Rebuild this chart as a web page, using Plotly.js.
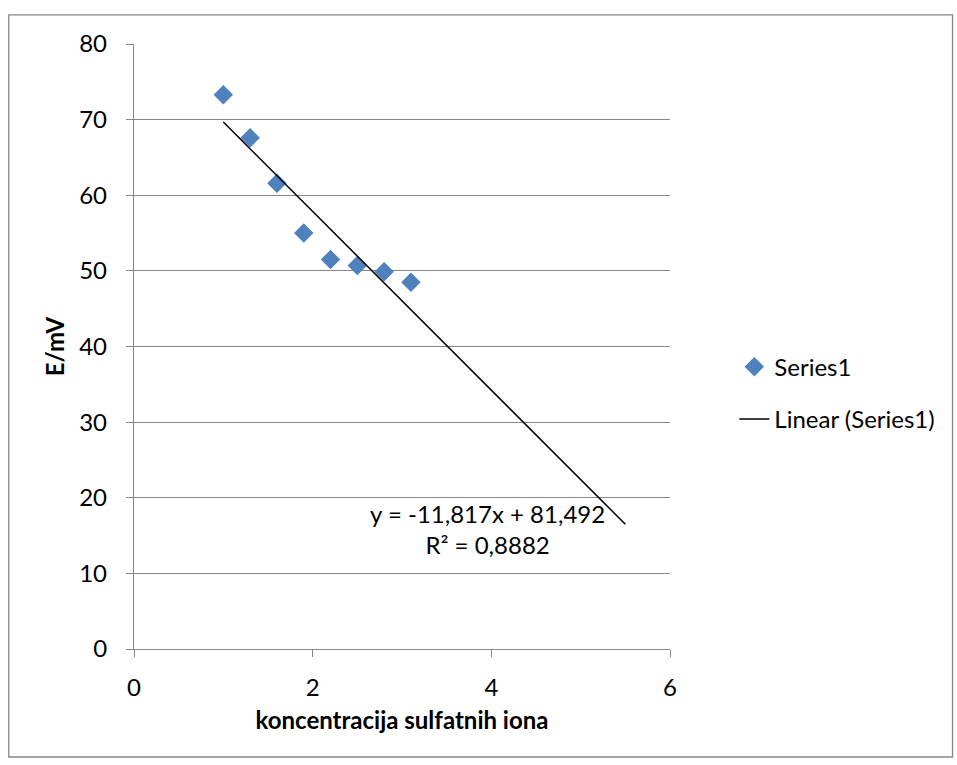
<!DOCTYPE html>
<html><head><meta charset="utf-8">
<script src="https://cdn.plot.ly/plotly-3.0.1.min.js"></script>
<style>body{margin:0;background:#fff}#chart{width:957px;height:765px}</style>
</head><body><div id="chart"></div>
<script>
const xValues = [1, 1.3, 1.6, 1.9, 2.2, 2.5, 2.8, 3.1];
const yValues = [73.3, 67.6, 61.6, 55.0, 51.5, 50.7, 49.9, 48.5];
const trendSlope = -11.817;
const trendIntercept = 81.492;
const trendRange = [1, 5.5];
const trendLabel = 'y = -11,817x + 81,492<br>R² = 0,8882';
const xTicks = [0, 2, 4, 6];
const yTicks = [0, 10, 20, 30, 40, 50, 60, 70, 80];

const FONT = 'Lato, "Open Sans", sans-serif';
const trendX = trendRange;
const trendY = trendRange.map(x => trendSlope * x + trendIntercept);

const data = [
  {x: xValues, y: yValues, type: 'scatter', mode: 'markers', name: 'Series1',
   marker: {symbol: 'diamond', size: 15, color: '#4F81BD'}, legendgroup: 'a'},
  {x: trendX, y: trendY, type: 'scatter', mode: 'lines', name: 'Linear (Series1)',
   line: {color: '#000000', width: 1.5}, legendgroup: 'b'}
];

const layout = {
  width: 957, height: 765,
  margin: {l: 134, r: 287, t: 44, b: 116},
  paper_bgcolor: '#ffffff', plot_bgcolor: '#ffffff',
  font: {family: FONT, size: 24, color: '#000'},
  xaxis: {range: [0, 6], tickvals: xTicks, showgrid: false, zeroline: false,
    showline: true, linecolor: '#868686', linewidth: 1.3,
    ticks: 'outside', ticklen: 7, tickcolor: '#868686', ticklabelstandoff: 10,
    tickfont: {size: 24, family: FONT},
    title: {text: 'koncentracija sulfatnih iona', font: {size: 24, family: FONT, weight: 'bold'}, standoff: 12}},
  yaxis: {range: [0, 80], tickvals: yTicks, showgrid: true, gridcolor: '#868686', gridwidth: 1.3,
    zeroline: false, showline: true, linecolor: '#868686', linewidth: 1.3,
    ticks: 'outside', ticklen: 7, tickcolor: '#868686', ticklabelstandoff: 14,
    tickfont: {size: 24, family: FONT},
    title: {text: 'E/mV', font: {size: 24, family: FONT, weight: 'bold'}, standoff: 7}},
  showlegend: true,
  legend: {x: 1.12, y: 0.423, xanchor: 'left', yanchor: 'middle',
    font: {size: 24, family: FONT}, traceorder: 'grouped', tracegroupgap: 18,
    bgcolor: 'rgba(0,0,0,0)'},
  annotations: [{x: 3.96, y: 15.9, xref: 'x', yref: 'y', text: trendLabel, showarrow: false,
    align: 'center', font: {size: 24, family: FONT}}],
  shapes: [{type: 'rect', xref: 'paper', yref: 'paper', x0: -0.2336, x1: 1.5271, y0: -0.1785, y1: 1.048,
    line: {color: '#868686', width: 1.3}, fillcolor: 'rgba(0,0,0,0)', layer: 'below'}]
};

Plotly.newPlot('chart', data, layout, {displayModeBar: false});
</script></body></html>
